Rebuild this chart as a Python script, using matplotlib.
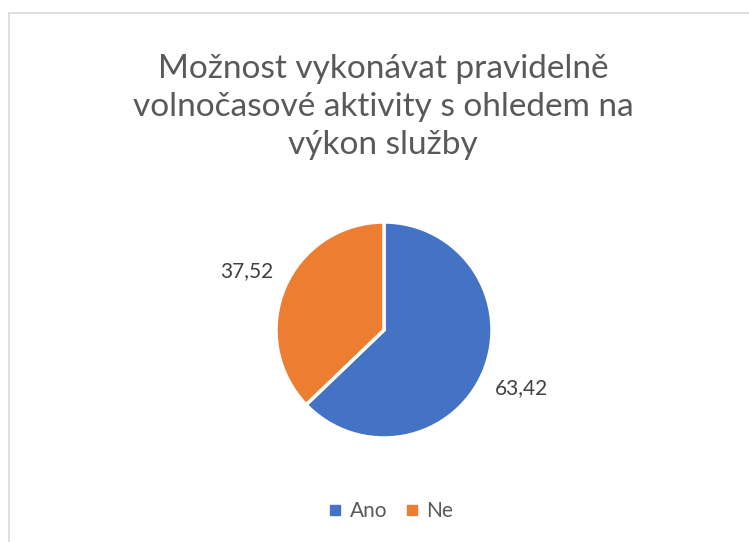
import matplotlib.pyplot as plt
from matplotlib.patches import Rectangle
from matplotlib.lines import Line2D

plt.rcParams['font.family'] = ['Lato', 'DejaVu Sans']

title = 'Možnost vykonávat pravidelně\nvolnočasové aktivity s ohledem na\nvýkon služby'
categories = ['Ano', 'Ne']
values = [63.42, 37.52]
value_labels = ['63,42', '37,52']
colors = ['#4472C4', '#ED7D31']
text_col = '#595959'

W, H = 749, 542
fig = plt.figure(figsize=(W / 100, H / 100), dpi=100)

# chart frame (light grey, left and top edges visible)
fig.patches.append(Rectangle((8.5 / W, -0.1), 1.2, (H - 12.5) / H + 0.1,
                             transform=fig.transFigure, fill=False,
                             edgecolor='#d9d9d9', linewidth=1.2))

fig.text(383 / W, 1 - 107 / H, title, ha='center', va='center', fontsize=24,
         color=text_col, linespacing=1.32)

cx, cy, r = 384, 330, 108
ax = fig.add_axes([(cx - r) / W, (H - cy - r) / H, 2 * r / W, 2 * r / H])
wedges, texts = ax.pie(values, labels=value_labels, colors=colors,
                       startangle=90, counterclock=False, labeldistance=1.38,
                       wedgeprops=dict(edgecolor='white', linewidth=2.5),
                       textprops=dict(fontsize=15, color='#404040'))
for t in texts:
    t.set_ha('center')
    t.set_va('center')
ax.set_xlim(-1, 1)
ax.set_ylim(-1, 1)
ax.set_aspect('equal')

handles = [Line2D([], [], marker='s', linestyle='none', markersize=7,
                  markerfacecolor=c, markeredgecolor=c) for c in colors]
fig.legend(handles, categories, loc='center', bbox_to_anchor=(389 / W, 1 - 511 / H),
           ncol=2, frameon=False, fontsize=15, labelcolor=text_col,
           handletextpad=0.2, columnspacing=0.7, handlelength=1.0)

fig.savefig('out.png', dpi=100)
